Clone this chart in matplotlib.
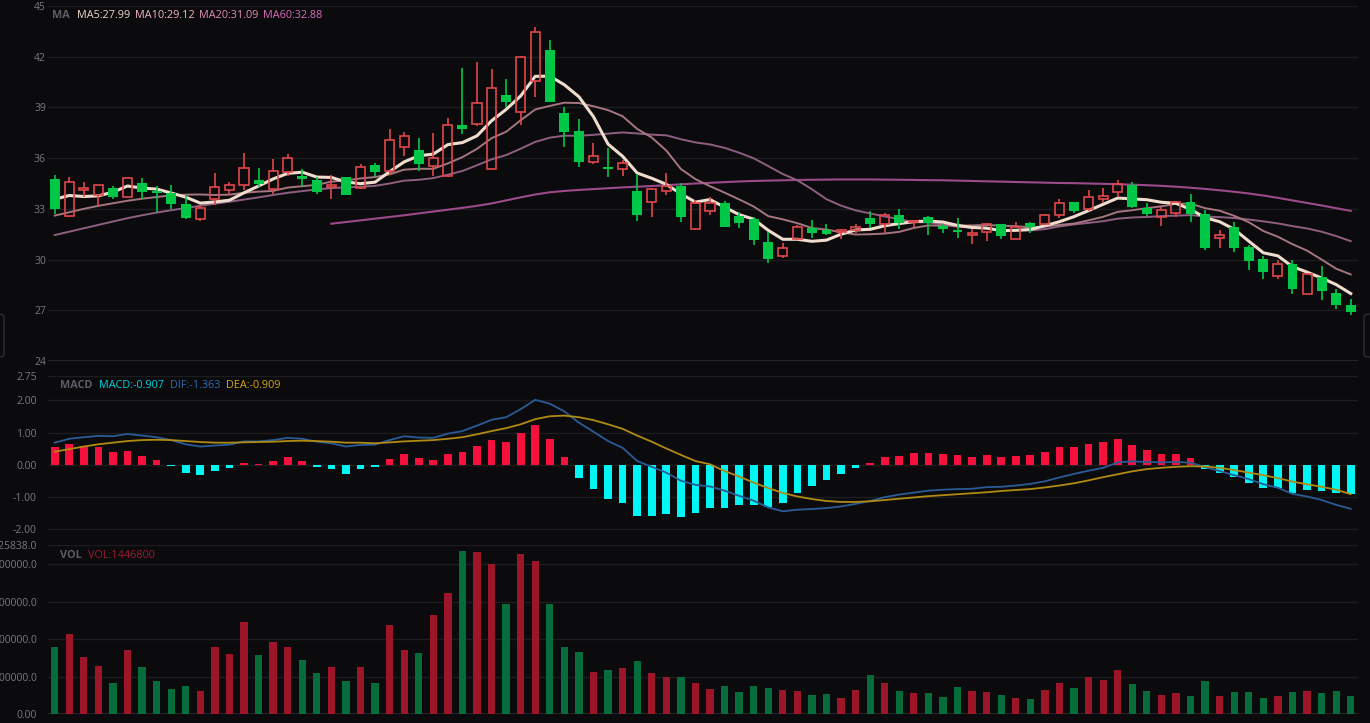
import numpy as np
import matplotlib
matplotlib.use("Agg")
import matplotlib.pyplot as plt
from matplotlib.patches import FancyBboxPatch

# ---- data (90 daily candles) ----
opens = [34.76, 32.59, 34.13, 33.81, 34.26, 33.73, 34.50, 34.07, 33.91, 33.28,
         32.39, 33.57, 34.13, 34.44, 34.68, 34.17, 35.19, 34.95, 34.68, 34.32,
         34.88, 34.21, 35.57, 35.25, 36.67, 36.48, 35.53, 34.96, 37.96, 38.02,
         35.35, 39.73, 38.75, 40.58, 42.39, 38.69, 37.60, 35.79, 35.45, 35.35,
         34.07, 33.40, 34.05, 34.34, 31.80, 32.88, 33.32, 32.59, 32.39, 31.05,
         30.24, 31.19, 31.88, 31.76, 31.64, 31.74, 32.47, 32.13, 32.63, 32.23,
         32.49, 31.99, 31.76, 31.46, 31.66, 32.09, 31.22, 32.19, 32.09, 32.64,
         33.39, 32.98, 33.57, 33.97, 34.42, 33.08, 32.49, 32.74, 33.39, 32.70,
         31.30, 31.90, 30.73, 30.02, 29.00, 29.75, 27.97, 28.94, 28.01, 27.30]
highs = [35.01, 34.86, 34.56, 34.41, 34.36, 34.88, 34.84, 34.34, 34.40, 33.77,
         33.22, 35.15, 34.60, 36.30, 35.39, 35.96, 36.24, 35.35, 34.88, 35.01,
         34.90, 35.68, 35.73, 37.72, 37.56, 37.17, 37.46, 38.35, 41.31, 41.66,
         41.25, 40.66, 42.05, 43.78, 42.99, 39.00, 38.29, 36.87, 36.58, 35.89,
         35.09, 34.25, 35.13, 34.50, 33.50, 33.71, 33.48, 32.82, 32.53, 31.64,
         30.99, 32.04, 32.33, 32.09, 31.80, 32.09, 32.88, 32.73, 32.98, 32.35,
         32.55, 32.11, 32.43, 31.80, 32.15, 32.10, 32.21, 32.20, 32.68, 33.57,
         33.43, 34.12, 34.22, 34.72, 34.56, 33.34, 33.10, 33.49, 33.87, 32.94,
         31.72, 32.25, 30.87, 30.22, 29.98, 29.98, 29.23, 29.63, 28.25, 27.65]
lows = [32.71, 32.51, 33.69, 33.16, 33.57, 33.69, 33.57, 32.84, 32.98, 32.39,
        32.31, 33.22, 33.83, 34.13, 34.28, 33.89, 34.92, 34.38, 33.89, 33.61,
        33.80, 34.20, 34.90, 35.00, 36.12, 35.25, 34.96, 34.90, 37.40, 37.90,
        35.30, 39.00, 37.96, 39.63, 39.30, 36.64, 35.49, 35.65, 34.90, 34.95,
        32.27, 32.53, 33.81, 32.23, 31.74, 32.61, 31.90, 31.84, 30.85, 29.81,
        30.12, 31.15, 31.30, 31.44, 31.19, 31.60, 31.84, 31.58, 31.80, 31.92,
        31.46, 31.56, 31.26, 30.93, 31.11, 31.22, 31.15, 31.56, 32.05, 32.43,
        32.74, 32.90, 33.34, 33.69, 33.05, 32.55, 31.99, 32.49, 32.25, 30.57,
        30.67, 30.42, 29.39, 28.88, 28.88, 27.95, 27.95, 27.62, 27.10, 26.75]
closes = [33.02, 34.58, 34.21, 34.39, 33.73, 34.84, 33.97, 33.92, 33.26, 32.47,
          33.08, 34.32, 34.44, 35.43, 34.46, 35.21, 35.98, 34.76, 33.97, 34.40,
          33.83, 35.49, 35.20, 37.07, 37.31, 35.65, 35.98, 37.98, 37.70, 39.28,
          40.13, 39.30, 42.00, 43.48, 39.34, 37.56, 35.75, 36.14, 35.35, 35.74,
          32.63, 34.20, 34.34, 32.53, 33.32, 33.36, 31.94, 32.17, 31.15, 30.02,
          30.71, 31.94, 31.56, 31.54, 31.76, 31.94, 32.13, 32.61, 32.19, 32.31,
          32.15, 31.82, 31.64, 31.56, 32.11, 31.40, 31.92, 31.92, 32.64, 33.34,
          32.90, 33.69, 33.77, 34.48, 33.10, 32.68, 32.94, 33.43, 32.68, 30.67,
          31.46, 30.71, 29.92, 29.25, 29.75, 28.25, 29.15, 28.17, 27.30, 26.91]

# volume in millions of shares
volumes = [5.40, 6.42, 4.59, 3.87, 2.52, 5.10, 3.73, 2.63, 2.04, 2.28,
           1.88, 5.34, 4.78, 7.36, 4.72, 5.80, 5.40, 4.32, 3.30, 3.79,
           2.66, 3.79, 2.47, 7.09, 5.15, 4.86, 7.95, 9.72, 13.05, 12.94,
           11.97, 8.83, 12.78, 12.21, 8.81, 5.40, 4.94, 3.33, 3.49, 3.65,
           4.27, 3.28, 2.98, 2.98, 2.48, 2.03, 2.27, 1.76, 2.27, 2.05,
           1.95, 1.86, 1.54, 1.62, 1.27, 1.92, 3.16, 2.49, 1.86, 1.70,
           1.65, 1.38, 2.14, 1.81, 1.76, 1.49, 1.32, 1.22, 1.89, 2.46,
           2.11, 2.97, 2.73, 3.51, 2.38, 1.84, 1.51, 1.70, 1.46, 2.65,
           1.43, 1.73, 1.76, 1.30, 1.41, 1.76, 1.86, 1.65, 1.86, 1.4468]

ma5 = [33.57, 33.79, 33.73, 33.77, 33.99, 34.35, 34.23, 34.17, 33.94, 33.69,
       33.34, 33.41, 33.51, 33.95, 34.35, 34.77, 35.10, 35.17, 34.88, 34.86,
       34.59, 34.49, 34.58, 35.20, 35.78, 36.14, 36.24, 36.80, 36.92, 37.32,
       38.21, 38.88, 39.68, 40.84, 40.85, 40.34, 39.63, 38.45, 36.83, 36.11,
       35.12, 34.81, 34.45, 33.89, 33.40, 33.55, 33.10, 32.66, 32.39, 31.73,
       31.20, 31.20, 31.08, 31.15, 31.50, 31.75, 31.79, 32.00, 32.13, 32.24,
       32.28, 32.22, 32.02, 31.90, 31.86, 31.71, 31.73, 31.78, 32.00, 32.24,
       32.54, 32.90, 33.27, 33.64, 33.59, 33.54, 33.39, 33.33, 32.97, 32.48,
       32.24, 31.79, 31.09, 30.40, 30.22, 29.58, 29.26, 28.91, 28.52, 27.99]
ma10 = [32.60, 32.80, 33.00, 33.18, 33.33, 33.48, 33.60, 33.70, 33.80, 33.84,
        33.85, 33.82, 33.84, 33.95, 34.02, 34.06, 34.26, 34.34, 34.42, 34.61,
        34.68, 34.80, 34.88, 35.04, 35.32, 35.37, 35.37, 35.69, 36.06, 36.55,
        37.18, 37.56, 38.24, 38.88, 39.09, 39.28, 39.26, 39.07, 38.84, 38.48,
        37.73, 37.22, 36.45, 35.36, 34.76, 34.34, 33.96, 33.56, 33.14, 32.57,
        32.38, 32.15, 31.87, 31.77, 31.62, 31.48, 31.50, 31.54, 31.64, 31.87,
        32.02, 32.01, 32.01, 32.02, 32.05, 32.00, 31.98, 31.90, 31.95, 32.05,
        32.13, 32.32, 32.53, 32.82, 32.92, 33.04, 33.15, 33.30, 33.31, 33.04,
        32.89, 32.59, 32.21, 31.69, 31.35, 30.91, 30.53, 30.00, 29.46, 29.12]
ma20 = [31.45, 31.65, 31.85, 32.05, 32.25, 32.45, 32.62, 32.78, 32.92, 33.05,
        33.18, 33.30, 33.42, 33.55, 33.68, 33.82, 33.95, 34.05, 34.15, 34.23,
        34.27, 34.31, 34.36, 34.50, 34.67, 34.72, 34.82, 35.02, 35.24, 35.58,
        35.93, 36.18, 36.56, 36.96, 37.21, 37.33, 37.32, 37.38, 37.45, 37.52,
        37.46, 37.39, 37.35, 37.12, 36.93, 36.81, 36.61, 36.32, 35.99, 35.53,
        35.06, 34.69, 34.16, 33.57, 33.19, 32.91, 32.73, 32.55, 32.39, 32.22,
        32.20, 32.08, 31.94, 31.90, 31.84, 31.74, 31.74, 31.72, 31.80, 31.96,
        32.08, 32.17, 32.27, 32.42, 32.49, 32.52, 32.57, 32.60, 32.63, 32.55,
        32.51, 32.46, 32.37, 32.26, 32.14, 31.98, 31.84, 31.65, 31.39, 31.09]
ma60 = [None] * 19 + [
        32.12, 32.22, 32.32, 32.42, 32.52, 32.62, 32.73, 32.84, 32.95, 33.06,
        33.18, 33.32, 33.50, 33.68, 33.85, 33.98, 34.06, 34.12, 34.17, 34.22,
        34.27, 34.31, 34.35, 34.40, 34.45, 34.50, 34.54, 34.58, 34.62, 34.65,
        34.67, 34.69, 34.71, 34.72, 34.73, 34.74, 34.74, 34.74, 34.73, 34.72,
        34.71, 34.70, 34.69, 34.67, 34.65, 34.63, 34.61, 34.59, 34.57, 34.55,
        34.53, 34.52, 34.50, 34.48, 34.46, 34.43, 34.40, 34.36, 34.31, 34.25,
        34.18, 34.10, 34.01, 33.91, 33.79, 33.65, 33.50, 33.35, 33.20, 33.04,
        32.88]

dif = [0.69, 0.81, 0.86, 0.90, 0.89, 0.96, 0.91, 0.86, 0.77, 0.64,
       0.57, 0.60, 0.63, 0.73, 0.73, 0.77, 0.84, 0.81, 0.72, 0.67,
       0.57, 0.62, 0.63, 0.77, 0.89, 0.85, 0.84, 0.97, 1.05, 1.22,
       1.40, 1.48, 1.73, 2.02, 1.90, 1.66, 1.31, 1.03, 0.74, 0.53,
       0.12, -0.06, -0.24, -0.49, -0.62, -0.67, -0.80, -0.96, -1.11, -1.32,
       -1.44, -1.39, -1.37, -1.34, -1.29, -1.21, -1.12, -1.00, -0.92, -0.86,
       -0.80, -0.77, -0.75, -0.74, -0.69, -0.68, -0.64, -0.59, -0.51, -0.39,
       -0.28, -0.18, -0.09, 0.08, 0.11, 0.09, 0.08, 0.09, 0.07, -0.07,
       -0.19, -0.32, -0.44, -0.60, -0.71, -0.90, -0.98, -1.09, -1.24, -1.363]
dea = [0.41, 0.49, 0.57, 0.64, 0.69, 0.74, 0.77, 0.78, 0.77, 0.74,
       0.71, 0.69, 0.69, 0.70, 0.71, 0.72, 0.74, 0.75, 0.74, 0.72,
       0.69, 0.69, 0.67, 0.70, 0.73, 0.75, 0.77, 0.81, 0.86, 0.95,
       1.05, 1.14, 1.26, 1.42, 1.51, 1.53, 1.48, 1.39, 1.26, 1.12,
       0.91, 0.72, 0.51, 0.31, 0.12, 0.02, -0.19, -0.36, -0.55, -0.72,
       -0.87, -0.98, -1.06, -1.12, -1.15, -1.15, -1.13, -1.09, -1.05, -1.01,
       -0.97, -0.94, -0.91, -0.88, -0.85, -0.81, -0.78, -0.75, -0.70, -0.64,
       -0.57, -0.48, -0.38, -0.29, -0.20, -0.13, -0.09, -0.06, -0.04, -0.05,
       -0.09, -0.16, -0.24, -0.32, -0.41, -0.52, -0.60, -0.68, -0.77, -0.909]
macd_hist = [0.545, 0.64, 0.60, 0.545, 0.41, 0.43, 0.28, 0.15, -0.02, -0.24,
             -0.31, -0.19, -0.10, 0.07, 0.04, 0.11, 0.23, 0.13, -0.07, -0.14,
             -0.27, -0.13, -0.08, 0.17, 0.35, 0.22, 0.14, 0.33, 0.39, 0.59,
             0.77, 0.72, 0.98, 1.25, 0.81, 0.23, -0.40, -0.75, -1.06, -1.18,
             -1.59, -1.59, -1.51, -1.61, -1.50, -1.34, -1.35, -1.26, -1.26, -1.32,
             -1.19, -0.88, -0.66, -0.46, -0.29, -0.10, 0.05, 0.23, 0.29, 0.36,
             0.38, 0.35, 0.30, 0.26, 0.32, 0.25, 0.29, 0.30, 0.41, 0.55,
             0.57, 0.66, 0.70, 0.79, 0.63, 0.45, 0.35, 0.33, 0.21, -0.12,
             -0.24, -0.39, -0.56, -0.72, -0.72, -0.86, -0.77, -0.80, -0.87, -0.907]

price_ticks = [24, 27, 30, 33, 36, 39, 42, 45]
macd_ticks = [-2, -1, 0, 1, 2, 2.75]
vol_ticks = [0, 3e6, 6e6, 9e6, 12e6, 13525838]
vol_tick_labels = ["0.00", "3000000.0", "6000000.0", "9000000.0", "12000000.0", "13525838.0"]

# ---- colours ----
BG = "#0b0b0d"
GRID = "#1d1d21"
TICK = "#767982"
UP = "#e0474b"
DOWN = "#00c846"
VOL_UP = "#9c1529"
VOL_DOWN = "#066c3c"

W, H = 1370, 723
plt.rcParams['font.family'] = ['Open Sans', 'DejaVu Sans']


def px_rect(top, bottom, left=48, right=1358):
    # convert pixel box to figure fraction
    return [left / W, 1 - bottom / H, (right - left) / W, (bottom - top) / H]


def style_axis(ax, ticks, labels, ylim, pad):
    ax.set_facecolor(BG)
    ax.set_xlim(-0.46, 89.5)
    ax.set_ylim(*ylim)
    ax.set_yticks(ticks)
    ax.set_yticklabels(labels)
    ax.set_xticks([])
    ax.tick_params(axis='y', length=0, pad=pad, labelsize=7.5, labelcolor=TICK)
    for s in ax.spines.values():
        s.set_visible(False)
    ax.grid(axis='y', color=GRID, linewidth=1)
    ax.set_axisbelow(True)


fig = plt.figure(figsize=(W / 100, H / 100), dpi=100, facecolor=BG)

x = np.arange(len(closes))
o = np.array(opens)
c = np.array(closes)
hi = np.array(highs)
lo = np.array(lows)
up = c >= o

# ---- price panel ----
ax1 = fig.add_axes(px_rect(6, 361))
style_axis(ax1, price_ticks, [str(t) for t in price_ticks], (24, 45), 1.5)
ax1.axhline(24, color="#2a2a2f", linewidth=1.2)

ax1.plot(x, np.array(ma60, dtype=float), color="#9c4a8a", lw=1.5, zorder=2)
ax1.plot(x, ma20, color="#8e5f80", lw=1.4, zorder=2)
ax1.plot(x, ma10, color="#a5767f", lw=1.4, zorder=2)
ax1.plot(x, ma5, color="#f0dccd", lw=2.2, zorder=2)

body_lo = np.minimum(o, c)
body_hi = np.maximum(o, c)
body_h = np.maximum(body_hi - body_lo, 0.05)

# down candles: filled green
ax1.vlines(x[~up], lo[~up], hi[~up], color=DOWN, lw=1.2, zorder=3)
ax1.bar(x[~up], body_h[~up], bottom=body_lo[~up], width=0.68, color=DOWN, zorder=4)
# up candles: hollow red
ax1.vlines(x[up], lo[up], body_lo[up], color=UP, lw=1.2, zorder=3)
ax1.vlines(x[up], body_lo[up] + body_h[up], hi[up], color=UP, lw=1.2, zorder=3)
ax1.bar(x[up], body_h[up], bottom=body_lo[up], width=0.62, facecolor='none',
        edgecolor=UP, linewidth=1.2, zorder=4)

# ---- MACD panel ----
ax2 = fig.add_axes(px_rect(376.3, 539))
style_axis(ax2, macd_ticks, ["%.2f" % t for t in macd_ticks], (-2.3, 2.75), 8)
hist = np.array(macd_hist)
ax2.bar(x, hist, width=0.53, color=np.where(hist >= 0, "#f5113d", "#00f5f5"), zorder=2)
ax2.plot(x, dif, color="#2a5b96", lw=1.3, zorder=3)
ax2.plot(x, dea, color="#b08a12", lw=1.3, zorder=3)

# ---- volume panel ----
ax3 = fig.add_axes(px_rect(545, 714))
style_axis(ax3, vol_ticks, vol_tick_labels, (0, 13525838), 8)
ax3.axhline(0, color="#2a2a2f", linewidth=1.2)
vol = np.array(volumes) * 1e6
ax3.bar(x, vol, width=0.5, color=np.where(up, VOL_UP, VOL_DOWN), zorder=2)

# ---- legends ----
def label(xpx, ypx, text, color, bold=False):
    fig.text(xpx / W, 1 - ypx / H, text, color=color, fontsize=7.8, va='center',
             ha='left', fontweight='bold' if bold else 'normal')

label(52, 15, "MA", "#5c5e66", bold=True)
label(77, 15, "MA5:27.99", "#f0d8c8")
label(135, 15, "MA10:29.12", "#f2b6c2")
label(199, 15, "MA20:31.09", "#e48db6")
label(263, 15, "MA60:32.88", "#d86cbf")

label(60, 386, "MACD", "#5c5e66", bold=True)
label(99, 386, "MACD:-0.907", "#00d2da")
label(170, 386, "DIF:-1.363", "#2c6bb2")
label(226, 386, "DEA:-0.909", "#d6a811")

label(60, 556, "VOL", "#5c5e66", bold=True)
label(88, 556, "VOL:1446800", "#9e1a30")

# faint scroll handles at both sides
for left in (-8, 1364):
    fig.patches.append(FancyBboxPatch((left / W, 1 - 357 / H), 12 / W, 43 / H,
                                      boxstyle="round,pad=0,rounding_size=0.004",
                                      transform=fig.transFigure, facecolor='none',
                                      edgecolor="#2c2c31", linewidth=1))

fig.savefig("out.png", dpi=100, facecolor=BG)
